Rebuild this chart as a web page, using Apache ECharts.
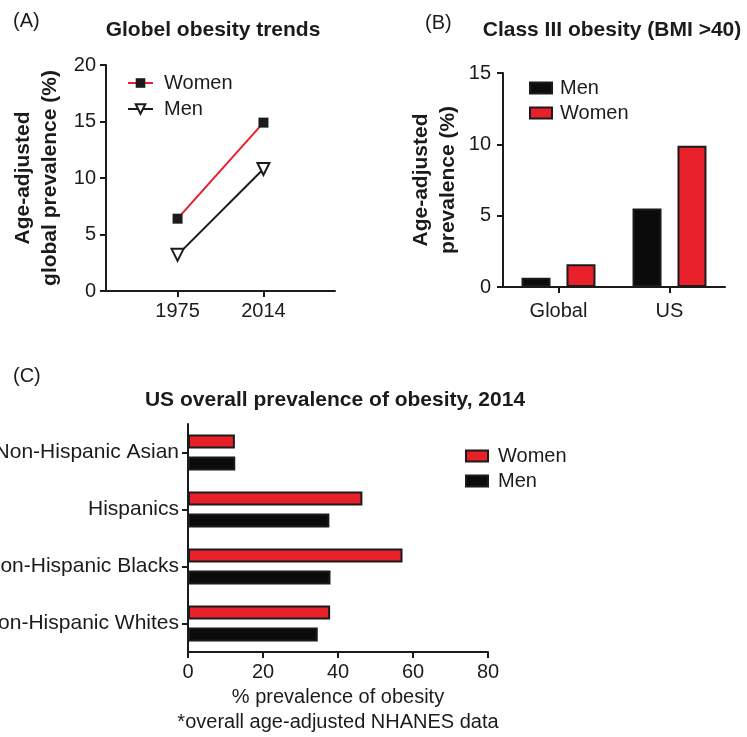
<!DOCTYPE html>
<html>
<head>
<meta charset="utf-8">
<script src="https://cdn.jsdelivr.net/npm/echarts@6/dist/echarts.min.js"></script>
<style>
  html, body { margin: 0; padding: 0; background: #fff; }
  #chart { width: 747px; height: 737px; }
</style>
</head>
<body>
<div id="chart"></div>
<script>
// (A) Global obesity trends, age-adjusted prevalence (%)
const trendYears = ['1975', '2014'];
const trendWomen = [6.4, 14.9];
const trendMen = [3.2, 10.8];

// (B) Class III obesity (BMI > 40), age-adjusted prevalence (%)
const classRegions = ['Global', 'US'];
const classMen = [0.65, 5.5];
const classWomen = [1.6, 9.9];

// (C) US overall prevalence of obesity, 2014 (%)
const usGroups = ['Non-Hispanic Asian', 'Hispanics', 'Non-Hispanic Blacks', 'Non-Hispanic Whites'];
const usWomen = [12.5, 46.5, 57.2, 37.9];
const usMen = [12.6, 37.7, 38.0, 34.6];

// The year axis of panel A has eight evenly spaced slots; the two years sit in slots 2 and 5.
const yearSlots = [2, 5];
const slotCount = 8;
const slotLabels = Array.from({ length: slotCount }, (_, i) => {
  const k = yearSlots.indexOf(i);
  return k >= 0 ? trendYears[k] : '';
});
const toSlots = (values) => Array.from({ length: slotCount }, (_, i) => {
  const k = yearSlots.indexOf(i);
  return k >= 0 ? values[k] : null;
});

const FONT = '"Liberation Sans", Arial, Helvetica, sans-serif';
const INK = '#1b1b1b';
const RED = '#e8202a';

const axisLine = { show: true, lineStyle: { color: INK, width: 2 } };
const axisTick = { show: true, length: 6, lineStyle: { color: INK, width: 2 } };
const tickText = { fontFamily: FONT, fontSize: 20, color: INK };
const nameText = { fontFamily: FONT, fontSize: 21, fontWeight: 'bold', color: INK, lineHeight: 27 };
const legendText = (gap) => ({ fontFamily: FONT, fontSize: 20, color: INK, padding: [0, 0, 0, gap] });
const shortName = (name) => name.split(' \u00b7 ')[0];

function label(text, x, y, extra) {
  return {
    type: 'text', x: x, y: y,
    style: Object.assign({
      text: text, fill: INK, fontFamily: FONT, fontSize: 20,
      textAlign: 'left', align: 'left',
      textVerticalAlign: 'middle', verticalAlign: 'middle'
    }, extra || {})
  };
}
const heading = { fontSize: 21, fontWeight: 'bold', textAlign: 'center', align: 'center' };

const chart = echarts.init(document.getElementById('chart'), null, { renderer: 'canvas' });

chart.setOption({
  backgroundColor: '#fff',
  animation: false,
  textStyle: { fontFamily: FONT },
  graphic: [
    label('(A)', 13, 21),
    label('Globel obesity trends', 213, 30, heading),
    label('(B)', 425, 23),
    label('Class III obesity (BMI >40)', 612, 30, heading),
    label('(C)', 13, 376),
    label('US overall prevalence of obesity, 2014', 335, 400, heading)
  ],
  legend: [
    {
      orient: 'vertical', left: 127, top: 73, padding: 0,
      itemWidth: 25, itemHeight: 12, itemGap: 6,
      data: ['Women \u00b7 trend', 'Men \u00b7 trend'],
      formatter: shortName, textStyle: legendText(6), selectedMode: false
    },
    {
      orient: 'vertical', left: 529, top: 78, padding: 0,
      itemWidth: 22, itemHeight: 11, itemGap: 5, icon: 'rect',
      data: ['Men \u00b7 class III', 'Women \u00b7 class III'],
      formatter: shortName, textStyle: legendText(3), selectedMode: false
    },
    {
      orient: 'vertical', left: 465, top: 446, padding: 0,
      itemWidth: 22, itemHeight: 11, itemGap: 5, icon: 'rect',
      data: ['Women \u00b7 US 2014', 'Men \u00b7 US 2014'],
      formatter: shortName, textStyle: legendText(5), selectedMode: false
    }
  ],
  grid: [
    { left: 106, top: 65, width: 229, height: 226, containLabel: false, outerBoundsMode: 'none' },
    { left: 503, top: 73, width: 222, height: 214, containLabel: false, outerBoundsMode: 'none' },
    { left: 188, top: 424, width: 300, height: 228, containLabel: false, outerBoundsMode: 'none' }
  ],
  xAxis: [
    {
      type: 'category', gridIndex: 0, data: slotLabels, boundaryGap: true,
      axisLine: axisLine,
      axisTick: Object.assign({}, axisTick, { alignWithLabel: true, interval: (i) => slotLabels[i] !== '' }),
      axisLabel: Object.assign({}, tickText, { margin: 10, interval: (i) => slotLabels[i] !== '' })
    },
    {
      type: 'category', gridIndex: 1, data: classRegions, boundaryGap: true,
      axisLine: axisLine,
      axisTick: Object.assign({}, axisTick, { alignWithLabel: true }),
      axisLabel: Object.assign({}, tickText, { margin: 14 })
    },
    {
      type: 'value', gridIndex: 2, min: 0, max: 80, interval: 20,
      axisLine: axisLine, axisTick: axisTick, splitLine: { show: false },
      axisLabel: Object.assign({}, tickText, { margin: 10 }),
      name: '% prevalence of obesity\n*overall age-adjusted NHANES data',
      nameLocation: 'middle', nameGap: 33,
      nameTextStyle: { fontFamily: FONT, fontSize: 20, color: INK, lineHeight: 25 }
    }
  ],
  yAxis: [
    {
      type: 'value', gridIndex: 0, min: 0, max: 20, interval: 5,
      axisLine: axisLine, axisTick: axisTick, splitLine: { show: false },
      axisLabel: Object.assign({}, tickText, { margin: 10 }),
      name: 'Age-adjusted\nglobal prevalence (%)', nameLocation: 'middle', nameRotate: 90, nameGap: 42,
      nameTextStyle: nameText
    },
    {
      type: 'value', gridIndex: 1, min: 0, max: 15, interval: 5,
      axisLine: axisLine, axisTick: axisTick, splitLine: { show: false },
      axisLabel: Object.assign({}, tickText, { margin: 12 }),
      name: 'Age-adjusted\nprevalence (%)', nameLocation: 'middle', nameRotate: 90, nameGap: 41,
      nameTextStyle: nameText
    },
    {
      type: 'category', gridIndex: 2, data: usGroups, inverse: true, boundaryGap: true,
      axisLine: axisLine,
      axisTick: Object.assign({}, axisTick, { alignWithLabel: true }),
      axisLabel: Object.assign({}, tickText, { fontSize: 21, margin: 9 })
    }
  ],
  series: [
    {
      name: 'Women \u00b7 trend', type: 'line', xAxisIndex: 0, yAxisIndex: 0,
      data: toSlots(trendWomen), connectNulls: true,
      symbol: 'rect', symbolSize: 10,
      itemStyle: { color: INK },
      lineStyle: { color: RED, width: 2 }, z: 3
    },
    {
      name: 'Men \u00b7 trend', type: 'line', xAxisIndex: 0, yAxisIndex: 0,
      data: toSlots(trendMen), connectNulls: true,
      symbol: 'triangle', symbolRotate: 180, symbolSize: 12,
      itemStyle: { color: '#fff', borderColor: INK, borderWidth: 2 },
      lineStyle: { color: INK, width: 2 }, z: 3
    },
    {
      name: 'Men \u00b7 class III', type: 'bar', xAxisIndex: 1, yAxisIndex: 1,
      data: classMen, barWidth: 29, barGap: '55%',
      itemStyle: { color: '#0b0b0b', borderColor: INK, borderWidth: 2 }
    },
    {
      name: 'Women \u00b7 class III', type: 'bar', xAxisIndex: 1, yAxisIndex: 1,
      data: classWomen, barWidth: 29, barGap: '55%',
      itemStyle: { color: RED, borderColor: INK, borderWidth: 2 }
    },
    {
      name: 'Women \u00b7 US 2014', type: 'bar', xAxisIndex: 2, yAxisIndex: 2,
      data: usWomen, barWidth: 14, barGap: '57%',
      itemStyle: { color: RED, borderColor: INK, borderWidth: 2 }
    },
    {
      name: 'Men \u00b7 US 2014', type: 'bar', xAxisIndex: 2, yAxisIndex: 2,
      data: usMen, barWidth: 14, barGap: '57%',
      itemStyle: { color: '#0b0b0b', borderColor: INK, borderWidth: 2 }
    }
  ]
});
</script>
</body>
</html>
